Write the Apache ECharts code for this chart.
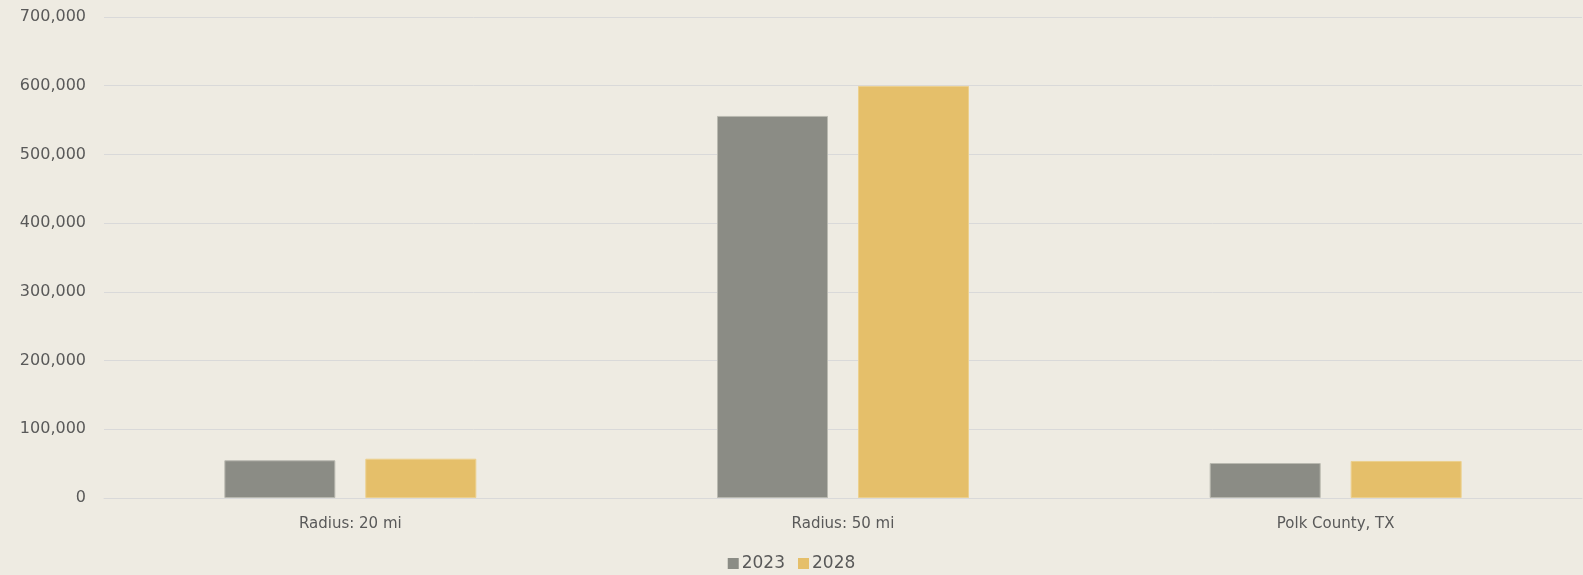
<!DOCTYPE html>
<html>
<head>
<meta charset="utf-8">
<script src="https://cdn.jsdelivr.net/npm/echarts@6/dist/echarts.min.js"></script>
<style>
  html, body { margin: 0; padding: 0; background: #eeebe2; }
  #main { width: 1583px; height: 575px; }
</style>
</head>
<body>
<div id="main"></div>
<script>
var categories = ["Radius: 20 mi", "Radius: 50 mi", "Polk County, TX"];
var seriesNames = ["2023", "2028"];
var values2023 = [54900, 556000, 50900];
var values2028 = [57200, 599700, 53900];

var myChart = echarts.init(document.getElementById("main"));
var labelFont = "'DejaVu Sans', sans-serif";

myChart.setOption({
  backgroundColor: "#eeebe2",
  color: ["#8b8c85", "#e5bf6a"],
  grid: {
    left: 104,
    right: 1,
    top: 17,
    bottom: 77
  },
  legend: {
    bottom: -2,
    left: "center",
    icon: "rect",
    itemWidth: 11,
    itemHeight: 11,
    itemGap: 13,
    data: seriesNames,
    itemStyle: { borderWidth: 0 },
    textStyle: {
      color: "#595959",
      fontSize: 17,
      fontFamily: labelFont,
      padding: [0, 0, 0, -2]
    }
  },
  xAxis: {
    type: "category",
    data: categories,
    axisTick: { show: false },
    axisLine: { lineStyle: { color: "#d9d9d9", width: 1 } },
    axisLabel: {
      color: "#595959",
      fontSize: 15,
      fontFamily: labelFont,
      margin: 19
    }
  },
  yAxis: {
    type: "value",
    min: 0,
    max: 700000,
    interval: 100000,
    axisLine: { show: false },
    axisTick: { show: false },
    splitLine: { lineStyle: { color: "#d9d9d9", width: 1 } },
    axisLabel: {
      color: "#595959",
      fontSize: 16,
      fontFamily: labelFont,
      margin: 18,
      padding: [3, 0, 0, 0],
      formatter: function (v) {
        return v.toLocaleString("en-US");
      }
    }
  },
  series: [
    {
      name: seriesNames[0],
      type: "bar",
      data: values2023,
      barWidth: 111,
      barGap: "27%",
      itemStyle: { borderColor: "#b9b9b0", borderWidth: 1 }
    },
    {
      name: seriesNames[1],
      type: "bar",
      data: values2028,
      barWidth: 111,
      itemStyle: { borderColor: "#ecd08e", borderWidth: 1 }
    }
  ]
});
</script>
</body>
</html>
